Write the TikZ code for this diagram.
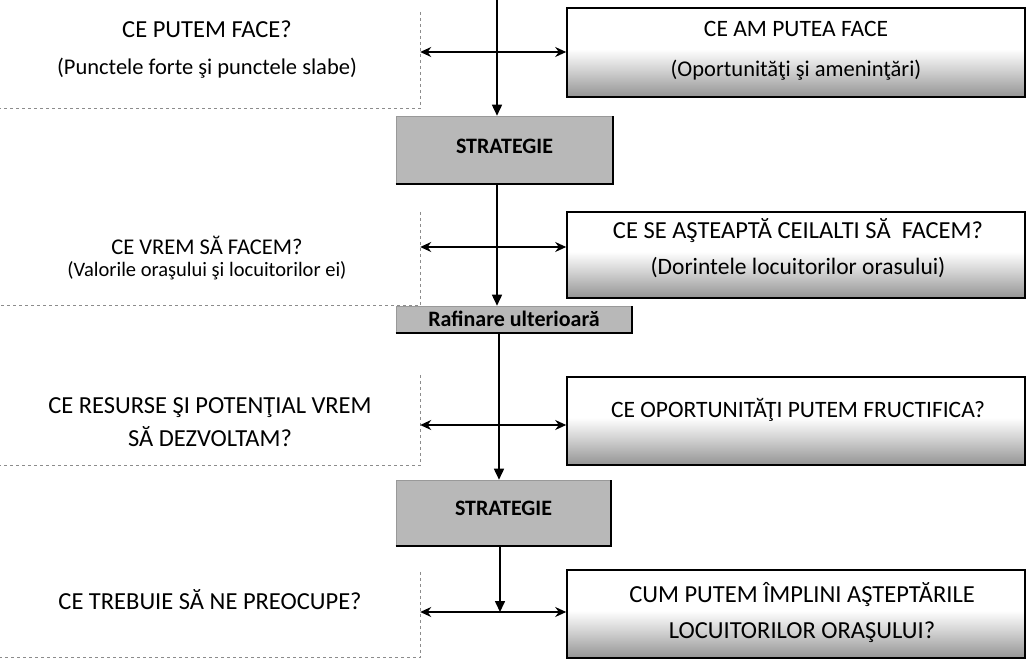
\documentclass[tikz,border=0pt]{standalone}
\usepackage{fontspec}
\setmainfont{Carlito}
\usetikzlibrary{arrows.meta}
\pgfdeclareverticalshading{rbshade}{100bp}{color(0bp)=(black!68); color(20bp)=(black!50); color(40bp)=(black!18); color(52bp)=(white); color(100bp)=(white)}
\begin{document}
\begin{tikzpicture}[x=1pt,y=-1pt,
  leftbox/.style={rectangle, draw=none, inner sep=0pt},
  ledge/.style={draw=black!45, line width=0.7pt, dash pattern=on 3pt off 3pt},
  rightbox/.style={rectangle, draw=black, line width=1.6pt, shading=rbshade, inner sep=0pt},
  stratbox/.style={rectangle, draw=black!40, line width=0.6pt, fill=black!28, inner sep=0pt},
  shadowline/.style={draw=black, line width=2.2pt},
  ltxt/.style={font=\fontsize{24.5}{28}\selectfont, inner sep=0pt},
  lsub/.style={font=\fontsize{22.5}{26}\selectfont, inner sep=0pt},
  rtxt/.style={font=\fontsize{24.5}{28}\selectfont, inner sep=0pt},
  rsub/.style={font=\fontsize{22.5}{26}\selectfont, inner sep=0pt},
  btxt/.style={font=\bfseries\fontsize{22}{26}\selectfont, inner sep=0pt},
  dbl/.style={{Stealth[length=11pt,width=10pt]}-{Stealth[length=11pt,width=10pt]}, line width=1.6pt},
  varr/.style={-{Triangle[length=11pt,width=10pt]}, line width=1.6pt}]
\useasboundingbox (0,0) rectangle (1027,661);

% left boxes
\node[leftbox, minimum width=420pt, minimum height=96pt] (L1) at (210,60) {};
\node[leftbox, minimum width=420pt, minimum height=93pt] (L2) at (210,258.5) {};
\node[leftbox, minimum width=420pt, minimum height=90pt] (L3) at (210,420) {};
\node[leftbox, minimum width=420pt, minimum height=85pt] (L4) at (210,614.5) {};
\foreach \n in {L1,L2,L3,L4}{
  \draw[ledge] (\n.north east) -- (\n.south east) -- (\n.south west);
}

% right boxes
\node[rightbox, minimum width=458pt, minimum height=89pt] (R1) at (796,52.5) {};
\node[rightbox, minimum width=458pt, minimum height=86pt] (R2) at (796,255) {};
\node[rightbox, minimum width=458pt, minimum height=88pt] (R3) at (796,421) {};
\node[rightbox, minimum width=458pt, minimum height=88pt] (R4) at (796,614) {};

% strategy boxes
\node[stratbox, minimum width=217pt, minimum height=68pt] (S1) at (504.5,150) {};
\node[stratbox, minimum width=236pt, minimum height=27pt] (RF) at (514,319.5) {};
\node[stratbox, minimum width=215pt, minimum height=66pt] (S2) at (503.5,513) {};
\foreach \n in {S1,RF,S2}{
  \draw[shadowline] (\n.south west) -- (\n.south east) -- (\n.north east);
}

% texts
\node[ltxt] (t1a) at (207,29) {CE PUTEM FACE?};
\node[lsub] (t1b) at (207,68) {(Punctele forte şi punctele slabe)};
\node[rtxt, font=\fontsize{23.5}{27}\selectfont] (r1a) at (796,29) {CE AM PUTEA FACE};
\node[rsub] (r1b) at (796,70) {(Oportunităţi şi ameninţări)};
\node[btxt] (s1t) at (504.5,146) {STRATEGIE};
\node[ltxt, font=\fontsize{22.5}{26}\selectfont] (t2a) at (207,245) {CE VREM SĂ FACEM?};
\node[lsub, font=\fontsize{20.5}{24}\selectfont] (t2b) at (207,271) {(Valorile oraşului şi locuitorilor ei)};
\node[rtxt] (r2a) at (798,231) {CE SE AŞTEAPTĂ CEILALTI SĂ \ FACEM?};
\node[rsub, font=\fontsize{23.5}{27}\selectfont] (r2b) at (798,268) {(Dorintele locuitorilor orasului)};
\node[btxt] (rft) at (514,319) {Rafinare ulterioară};
\node[ltxt] (t3a) at (210,408) {CE RESURSE ŞI POTENŢIAL VREM};
\node[ltxt] (t3b) at (210,437) {SĂ DEZVOLTAM?};
\node[rtxt, font=\fontsize{23.5}{27}\selectfont] (r3a) at (798,410) {CE OPORTUNITĂŢI PUTEM FRUCTIFICA?};
\node[btxt] (s2t) at (503.5,508) {STRATEGIE};
\node[ltxt] (t4a) at (210,600) {CE TREBUIE SĂ NE PREOCUPE?};
\node[rtxt] (r4a) at (802,595) {CUM PUTEM ÎMPLINI AŞTEPTĂRILE};
\node[rtxt] (r4b) at (802,632) {LOCUITORILOR ORAŞULUI?};

% connectors
\coordinate (top) at (497,0);
\coordinate (c1) at (497,52);
\coordinate (c2) at (497,247);
\coordinate (c3) at (499,425);
\coordinate (c4) at (500,612);

\draw[varr] (top) -- (top |- S1.north);
\draw[varr] (S1.south -| c2) -- (RF.north -| c2);
\draw[varr] (RF.south -| c3) -- (S2.north -| c3);
\draw[varr] (S2.south -| c4) -- (c4);

\draw[dbl] (c1 -| L1.east) -- (c1 -| R1.west);
\draw[dbl] (c2 -| L2.east) -- (c2 -| R2.west);
\draw[dbl] (c3 -| L3.east) -- (c3 -| R3.west);
\draw[dbl] (c4 -| L4.east) -- (c4 -| R4.west);
\end{tikzpicture}
\end{document}
